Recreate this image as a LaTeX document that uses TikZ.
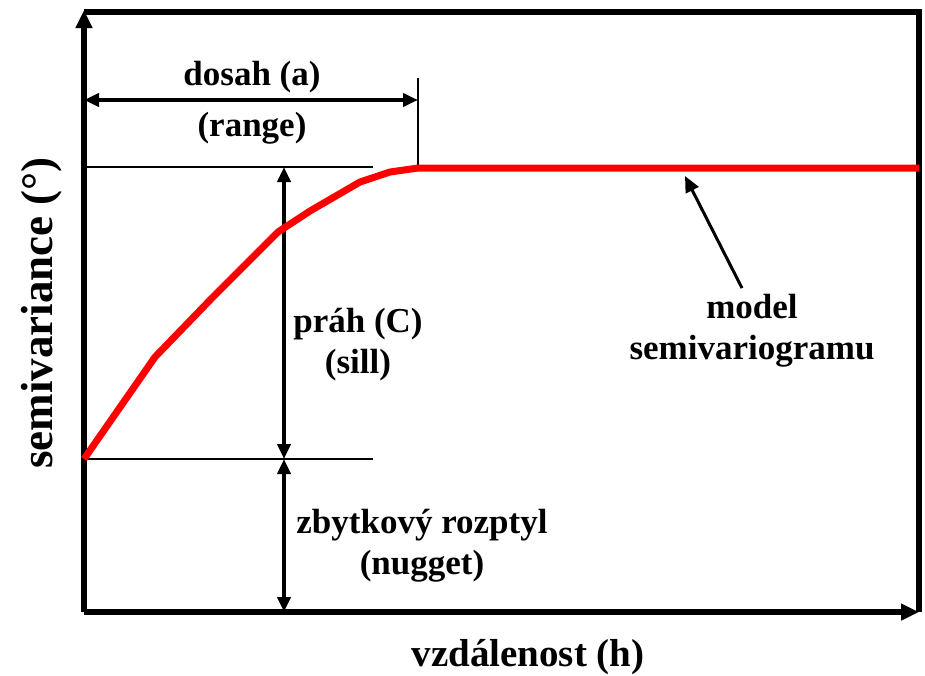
\documentclass[tikz,border=0pt]{standalone}
\usepackage{fontspec}
\setmainfont{Liberation Serif}
\usetikzlibrary{arrows.meta,positioning}

\begin{document}
\begin{tikzpicture}[
    x=0.5pt, y=-0.5pt,
    lbl/.style={font=\fontsize{17.5}{20.5}\selectfont\bfseries, align=center, inner sep=0pt},
    axis/.style={line width=3pt, -{Triangle[length=9pt,width=8pt]}},
    frame/.style={line width=3pt},
    dim/.style={{Triangle[length=7.5pt,width=6.5pt]}-{Triangle[length=7.5pt,width=6.5pt]}, line width=2pt},
    guide/.style={line width=1pt},
    redline/.style={red, line width=3.5pt, line join=round},
    pointer/.style={-{Triangle[length=8pt,width=7pt]}, line width=1.5pt}
]
\useasboundingbox (0,0) rectangle (925,675);
% axes and frame
\coordinate (orig) at (84,612);
\coordinate (ytop) at (84,10);
\coordinate (xend) at (919,612);
\coordinate (corner) at (919,12);
\draw[frame] (84,12) -- (corner) -- (xend);
\draw[axis] (orig) -- (ytop);
\draw[axis] (orig) -- (xend);
% range, sill and nugget
\coordinate (r0) at (84,100);
\coordinate (r1) at (418,100);
\coordinate (tick0) at (418,78);
\coordinate (tick1) at (418,168);
\coordinate (s0) at (84,167);
\coordinate (s1) at (373,167);
\coordinate (n0) at (84,459);
\coordinate (n1) at (373,459);
\coordinate (sa) at (284,167);
\coordinate (na) at (284,459);
\coordinate (oa) at (284,612);
\draw[dim] (r0) -- (r1);
\draw[guide] (tick0) -- (tick1);
\draw[guide] (s0) -- (s1);
\draw[guide] (n0) -- (n1);
\draw[dim] (sa) -- (na);
\draw[dim] (na) -- (oa);
% model curve
\coordinate (flat) at (919,168);
\draw[redline] (n0) -- (155,357) -- (212,298) -- (278,232) -- (310,211)
    -- (360,182) -- (390,172) -- (tick1) -- (flat);
% labels
\node[lbl] (dosah) at (252,77) {dosah (a)};
\node[lbl] (range) at (252,128) {(range)};
\node[lbl] (prah) at (358,345) {práh (C)\\(sill)};
\node[lbl] (nugget) at (422,546) {zbytkový rozptyl\\(nugget)};
\node[lbl] (model) at (752,331) {model\\semivariogramu};
\node[lbl, font=\fontsize{19.5}{22}\selectfont\bfseries] (xlab) at (528,657) {vzdálenost (h)};
\node[lbl, font=\fontsize{22.5}{26}\selectfont\bfseries, rotate=90] (ylab) at (42,313) {semivariance (°)};
\coordinate (hit) at (685,176);
\draw[pointer] ([shift={(-10,-6)}]model.north) -- (hit);
\end{tikzpicture}
\end{document}
